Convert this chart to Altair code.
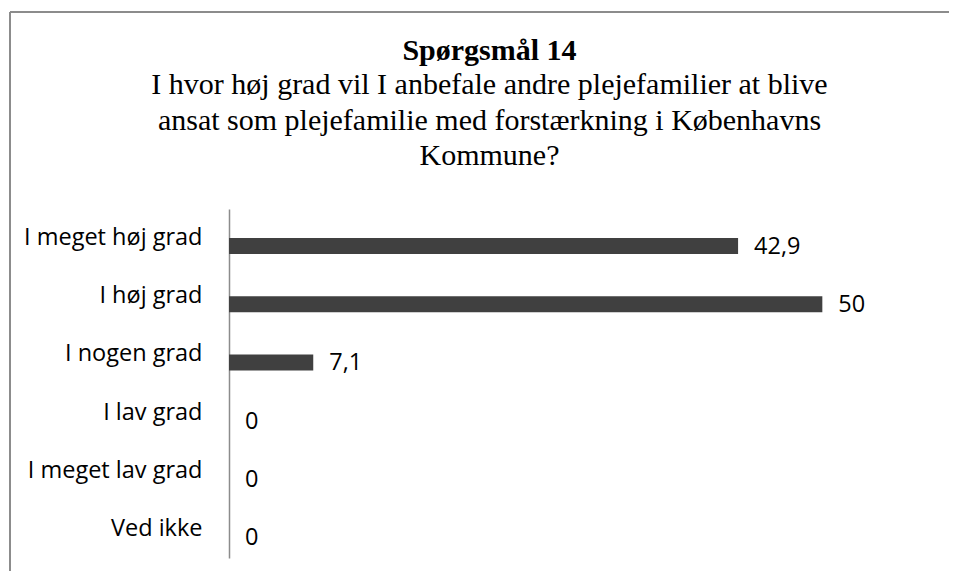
import altair as alt
import pandas as pd

# ---- data ----
categories = ["I meget høj grad", "I høj grad", "I nogen grad", "I lav grad", "I meget lav grad", "Ved ikke"]
values = [42.9, 50, 7.1, 0, 0, 0]
value_labels = ["42,9", "50", "7,1", "0", "0", "0"]

title_main = "Spørgsmål 14"
title_lines = [
    "I hvor høj grad vil I anbefale andre plejefamilier at blive",
    "ansat som plejefamilie med forstærkning i Københavns",
    "Kommune?",
]

W = 939
H = 559

df = pd.DataFrame({"kategori": categories, "procent": values, "label": value_labels})

y_enc = alt.Y(
    "kategori:N",
    sort=categories,
    scale=alt.Scale(range=[197, 546], paddingInner=0, paddingOuter=0),
    axis=alt.Axis(
        title=None,
        orient="left",
        offset=-219,
        domainColor="#8c8c8c",
        domainWidth=1.5,
        ticks=False,
        grid=False,
        labelFont="Open Sans",
        labelFontSize=23.5,
        labelColor="#000000",
        labelPadding=27,
        labelLimit=400,
    ),
)
x_enc = alt.X(
    "procent:Q",
    scale=alt.Scale(domain=[0, 60], range=[219, 931], nice=False, zero=True),
    axis=None,
)

bars = alt.Chart(df).mark_bar(color="#404040", size=16, yOffset=8).encode(x=x_enc, y=y_enc)
text = alt.Chart(df).mark_text(
    align="left", baseline="middle", dx=16, dy=9,
    font="Open Sans", fontSize=23.5, color="#000000"
).encode(x=x_enc, y=y_enc, text="label:N")

frame_df = pd.DataFrame({"k": [0]})
left_edge = alt.Chart(frame_df).mark_rule(color="#8c8c8c", strokeWidth=2).encode(
    x=alt.value(0), y=alt.value(0), y2=alt.value(H)
)
top_edge = alt.Chart(frame_df).mark_rule(color="#8c8c8c", strokeWidth=2).encode(
    x=alt.value(0), x2=alt.value(W), y=alt.value(0)
)

chart = (
    alt.layer(left_edge, top_edge, bars, text)
    .properties(
        width=W,
        height=H,
        padding={"left": 2, "top": 4, "right": 0, "bottom": 0},
        autosize=alt.AutoSizeParams(type="none"),
        title=alt.TitleParams(
            text=title_main,
            subtitle=title_lines,
            font="Liberation Serif",
            fontSize=30,
            fontWeight="bold",
            color="#000000",
            subtitleFont="Liberation Serif",
            subtitleFontSize=30,
            subtitleColor="#000000",
            subtitleLineHeight=35.5,
            subtitlePadding=4,
            anchor="middle",
            dx=10,
            offset=-160,
        ),
    )
    .configure_view(stroke=None)
)

chart.save("out.html", embed_options={"renderer": "svg", "actions": False})
